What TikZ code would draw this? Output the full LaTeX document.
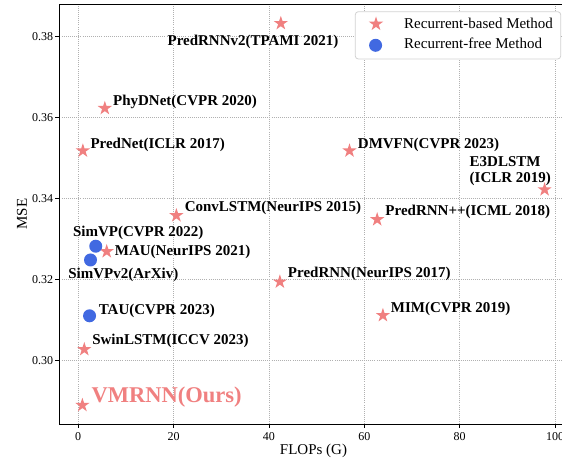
\documentclass[tikz,border=0pt]{standalone}
\usepackage{fontspec}
\setmainfont{Liberation Serif}
\usetikzlibrary{shapes.geometric}
\definecolor{lightcoral}{RGB}{240,128,128}
\definecolor{royalblue}{RGB}{65,105,225}
\definecolor{gridgray}{RGB}{176,176,176}
\definecolor{legendgray}{RGB}{210,210,210}
\tikzset{
  recbased/.style={star, star points=5, star point ratio=2.618, fill=lightcoral, inner sep=0pt, minimum size=15pt},
  recfree/.style={circle, fill=royalblue, inner sep=0pt, minimum size=13pt},
  lbl/.style={font=\bfseries\fontsize{15}{16}\selectfont, anchor=base west, inner sep=0pt},
  ticklbl/.style={font=\fontsize{12}{14}\selectfont, inner sep=0pt},
  axlbl/.style={font=\fontsize{15}{17}\selectfont, inner sep=0pt},
  gridline/.style={gridgray, line width=0.8pt, dash pattern=on 0.8pt off 1.3pt},
}
\begin{document}
\begin{tikzpicture}[x=1pt,y=1pt]
  \useasboundingbox (0,0) rectangle (562,460);
  % data coordinates: FLOPs (G) and MSE x 100
  \begin{scope}[x=4.77pt,y=40.45pt,shift={(78.1pt,-1113.8pt)}]
    \foreach \f in {0,20,...,100}
      \draw[gridline] (\f,28.42) -- (\f,38.80);
    \foreach \m in {30,32,...,38}
      \draw[gridline] (-3.9,\m) -- (102.6,\m);
    \draw[line width=1.2pt] (-3.9,28.42) rectangle (102.6,38.80);
    \foreach \f in {0,20,...,100}
      \draw[line width=0.8pt] (\f,28.42) -- ++(0,-4pt) node[ticklbl,anchor=north,yshift=-4pt] {\f};
    \foreach \m in {30,32,...,38}
      \draw[line width=0.8pt] (-3.9,\m) -- ++(-4pt,0) node[ticklbl,anchor=east,xshift=-2pt] {0.\m};

    % recurrent-based methods
    \foreach \nm/\fx/\my/\lx/\ly/\txt in {
      predrnnv/42.5/38.33/18.72/37.77/{PredRNNv2(TPAMI 2021)},
      phydnet/5.6/36.23/7.30/36.29/{PhyDNet(CVPR 2020)},
      prednet/1.0/35.18/2.56/35.24/{PredNet(ICLR 2017)},
      dmvfn/56.9/35.18/58.62/35.24/{DMVFN(CVPR 2023)},
      convlstm/20.6/33.58/22.33/33.67/{ConvLSTM(NeurIPS 2015)},
      predrnnpp/62.7/33.48/64.40/33.59/{PredRNN++(ICML 2018)},
      mau/6.0/32.69/7.67/32.60/{MAU(NeurIPS 2021)},
      predrnn/42.3/31.94/43.96/32.04/{PredRNN(NeurIPS 2017)},
      mim/63.9/31.11/65.53/31.19/{MIM(CVPR 2019)},
      swinlstm/1.3/30.27/2.94/30.38/{SwinLSTM(ICCV 2023)}}
    {
      \node[recbased] (\nm) at (\fx,\my) {};
      \node[lbl] (\nm-l) at (\lx,\ly) {\txt};
    }
    \node[recbased] (e3dlstm) at (97.8,34.22) {};
    \node[lbl,align=left] (e3dlstm-l) at (82.05,34.40) {E3DLSTM\\(ICLR 2019)};
    \node[recbased] (vmrnn) at (0.9,28.89) {};
    \node[lbl,font=\bfseries\fontsize{22.5}{24}\selectfont,text=lightcoral] (vmrnn-l) at (2.79,28.96) {VMRNN(Ours)};

    % recurrent-free methods
    \node[recfree] (simvp) at (3.7,32.82) {};
    \node[lbl] (simvp-l) at (-1.11,33.06) {SimVP(CVPR 2022)};
    \node[recfree] (simvpv) at (2.6,32.48) {};
    \node[lbl] (simvpv-l) at (-2.10,32.03) {SimVPv2(ArXiv)};
    \node[recfree] (tau) at (2.4,31.10) {};
    \node[lbl] (tau-l) at (4.30,31.12) {TAU(CVPR 2023)};
  \end{scope}

  % axis labels
  \node[axlbl,anchor=base] (xlab) at (313.5,5) {FLOPs (G)};
  \node[axlbl,anchor=base,rotate=90] (ylab) at (26.9,245.8) {MSE};

  % legend
  \draw[legendgray,fill=white,line width=0.8pt,rounded corners=3pt] (355.3,401) rectangle (560.7,448.3);
  \node[recbased] (leg-a) at (376,436) {};
  \node[axlbl,anchor=base west] (leg-a-l) at (404,431.7) {Recurrent-based Method};
  \node[recfree] (leg-b) at (375.6,414.7) {};
  \node[axlbl,anchor=base west] (leg-b-l) at (404,411) {Recurrent-free Method};
\end{tikzpicture}
\end{document}
